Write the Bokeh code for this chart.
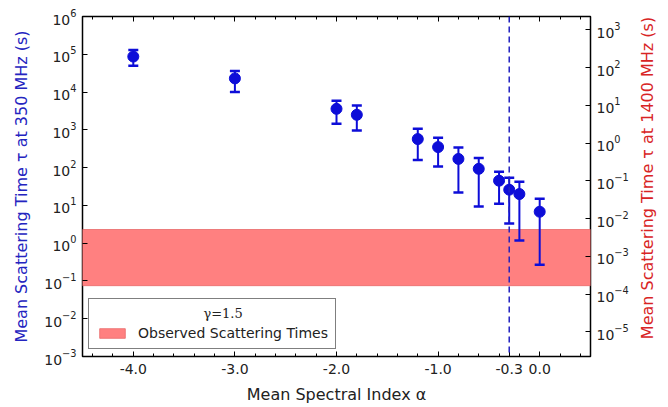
import math
import numpy as np
from bokeh.plotting import figure
from bokeh.layouts import row
from bokeh.models import (Range1d, LogAxis, LinearAxis, FixedTicker, LogTickFormatter,
                          Span, Legend, LegendItem, LogScale)
from bokeh.core.properties import value
from bokeh.embed import file_html
from bokeh.resources import INLINE

# ---- data ----
alpha = [-4.0, -3.0, -2.0, -1.8, -1.2, -1.0, -0.8, -0.6, -0.4, -0.3, -0.2, 0.0]
tau = [8.7e4, 2.3e4, 3.6e3, 2.5e3, 5.7e2, 3.5e2, 1.7e2, 93.0, 45.0, 26.0, 20.0, 6.8]
tau_hi = [1.3e5, 3.6e4, 5.9e3, 4.4e3, 1.07e3, 6.2e2, 3.4e2, 1.8e2, 78.0, 54.0, 42.0, 15.0]
tau_lo = [5.0e4, 1.0e4, 1.45e3, 9.6e2, 1.6e2, 1.07e2, 22.0, 9.3, 11.0, 3.3, 1.17, 0.27]
band_lo, band_hi = 0.075, 2.3
alpha_ref = -0.3
x_ticks = [-4.0, -3.0, -2.0, -1.0, -0.3, 0.0]
x_labels = ["-4.0", "-3.0", "-2.0", "-1.0", "-0.3", "0.0"]
x_lim = [-4.5, 0.5]
y_lim = [1e-3, 1e6]
left_exps = list(range(-3, 7))
right_exps = list(range(-5, 4))
freq_scale = (1400.0 / 350.0) ** -4.4
legend_title = "γ=1.5"
right_label = "Mean Scattering Time τ at 1400 MHz (s)"

FONT = "DejaVu Sans"
BLUE = "#0d0dd8"
SIDE_W = 36

p = figure(width=668 - SIDE_W, height=407, x_range=Range1d(*x_lim), y_range=Range1d(*y_lim),
           y_axis_type="log", output_backend="svg", toolbar_location=None,
           min_border_left=82, min_border_right=42, min_border_top=16, min_border_bottom=51)
p.extra_y_ranges = {"r": Range1d(y_lim[0] * freq_scale, y_lim[1] * freq_scale)}
p.extra_y_scales = {"r": LogScale()}
p.xgrid.visible = False
p.ygrid.visible = False
p.outline_line_color = "black"
p.outline_line_width = 1.5
p.background_fill_color = "white"
p.border_fill_color = "white"

minor = [round(v, 1) for v in np.arange(-4.4, 0.5, 0.2)]
xt = FixedTicker(ticks=x_ticks, minor_ticks=minor)


def style_axis(ax):
    ax.axis_line_color = None
    ax.major_tick_in = 5
    ax.major_tick_out = 0
    ax.major_tick_line_color = "black"
    ax.major_label_text_font = FONT
    ax.major_label_text_font_size = "14px"
    ax.major_label_text_color = "#222222"
    ax.axis_label_text_font = FONT
    ax.axis_label_text_font_size = "16px"
    ax.axis_label_text_font_style = "normal"


# bottom x axis
xa = p.below[0]
xa.ticker = xt
xa.major_label_overrides = {t: l for t, l in zip(x_ticks, x_labels)}
style_axis(xa)
xa.minor_tick_in = 3
xa.minor_tick_out = 0
xa.minor_tick_line_color = "black"
xa.major_label_standoff = 7
xa.axis_label = "Mean Spectral Index α"
xa.axis_label_standoff = 8
xa.axis_label_text_color = "#222222"

# top axis (ticks only)
ta = LinearAxis(ticker=xt)
style_axis(ta)
ta.major_label_text_font_size = "0px"
ta.major_label_standoff = 0
ta.minor_tick_in = 3
ta.minor_tick_out = 0
ta.major_label_overrides = {t: "" for t in x_ticks}
p.add_layout(ta, "above")

# left y axis
ya = p.left[0]
ya.ticker = FixedTicker(ticks=[10.0 ** k for k in left_exps])
ya.formatter = LogTickFormatter()
style_axis(ya)
ya.minor_tick_in = 0
ya.minor_tick_out = 0
ya.major_label_standoff = 6
ya.axis_label = "Mean Scattering Time τ at 350 MHz (s)"
ya.axis_label_text_color = "#2424c0"
ya.axis_label_standoff = 10

# right y axis
ra = LogAxis(y_range_name="r", ticker=FixedTicker(ticks=[10.0 ** k for k in right_exps]),
             formatter=LogTickFormatter())
style_axis(ra)
ra.minor_tick_in = 0
ra.minor_tick_out = 0
ra.major_label_standoff = 6
p.add_layout(ra, "right")

# observed band
band = p.quad(left=x_lim[0], right=x_lim[1], bottom=band_lo, top=band_hi,
              fill_color="#ff8080", fill_alpha=1.0, line_color="#e86a6a", line_width=0.8)

# reference line
p.add_layout(Span(location=alpha_ref, dimension="height", line_color="#2020c0",
                  line_width=1.5, line_dash="6 4"))

# error bars
p.segment(x0=alpha, y0=tau_lo, x1=alpha, y1=tau_hi, line_color=BLUE, line_width=2)
p.scatter(alpha, tau_hi, marker="dash", size=10, line_color=BLUE, line_width=2.5)
p.scatter(alpha, tau_lo, marker="dash", size=10, line_color=BLUE, line_width=2.5)
p.scatter(alpha, tau, marker="circle", size=11, fill_color=BLUE, line_color=BLUE)

# legend (title centred with non-breaking spaces)
pad = "\u00a0" * 26
legend = Legend(items=[LegendItem(label="Observed Scattering Times", renderers=[band])],
                location=(6, 7), title=pad + legend_title, title_text_font_size="13px",
                title_text_font="DejaVu Serif", title_text_font_style="normal",
                title_text_color="#222222",
                title_standoff=4, padding=7, spacing=0, margin=0,
                glyph_width=32, glyph_height=12, label_standoff=10,
                label_text_font=FONT, label_text_font_size="14px",
                label_text_color="#222222",
                border_line_color="black", border_line_width=1.5,
                background_fill_color="white", background_fill_alpha=1.0)
p.add_layout(legend)

# narrow side panel holding the right axis title (reads bottom-to-top)
side = figure(width=SIDE_W, height=407, x_range=Range1d(0, 1), y_range=Range1d(0, 1),
              output_backend="svg", toolbar_location=None, min_border=0)
side.axis.visible = False
side.grid.visible = False
side.outline_line_color = None
side.background_fill_color = "white"
side.border_fill_color = "white"
side.text(x=[0.42], y=[0.525], text=[right_label], angle=math.pi / 2,
          text_align="center", text_baseline="middle",
          text_font=value(FONT), text_font_size="16px", text_color="#d82424")

layout = row(p, side, spacing=0)
open("out.html", "w").write(file_html(layout, INLINE))
